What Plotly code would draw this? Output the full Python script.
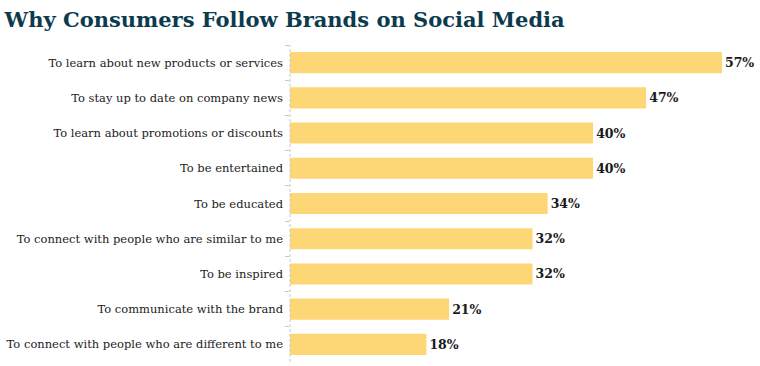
import plotly.graph_objects as go

categories = [
    "To learn about new products or services",
    "To stay up to date on company news",
    "To learn about promotions or discounts",
    "To be entertained",
    "To be educated",
    "To connect with people who are similar to me",
    "To be inspired",
    "To communicate with the brand",
    "To connect with people who are different to me",
]
values = [57, 47, 40, 40, 34, 32, 32, 21, 18]
labels = [f"{v}%" for v in values]

fig = go.Figure(go.Bar(
    x=values, y=categories, orientation="h",
    marker=dict(color="#FDD775", line=dict(width=0)),
    text=labels, textposition="outside",
    textfont=dict(family="DejaVu Serif", size=12.5, color="#1a1a1a", weight="bold"),
    cliponaxis=False, width=0.6, hoverinfo="skip",
))

fig.update_layout(
    width=760, height=366,
    margin=dict(l=290, r=10, t=45, b=4, autoexpand=False),
    paper_bgcolor="white", plot_bgcolor="white",
    title=dict(text="<b>Why Consumers Follow Brands on Social Media</b>",
               x=0.006, xanchor="left", y=0.945, yanchor="middle",
               font=dict(family="DejaVu Serif", size=21, color="#0D3B4E")),
    showlegend=False,
    bargap=0.4,
)
fig.update_xaxes(range=[0, 60.7], visible=False)
fig.update_yaxes(
    range=[8.5, -0.5], tickson="boundaries", ticks="outside",
    ticklen=4, tickcolor="#c8c8c8", ticklabelstandoff=6,
    showline=False, showgrid=False, automargin=False,
    tickfont=dict(family="DejaVu Serif", size=11.5, color="#222222"),
)
fig.add_shape(type="line", xref="paper", yref="paper", x0=0, x1=0, y0=0, y1=1,
              line=dict(color="#c8c8c8", width=1, dash="3px,2px"))

fig.write_html("out.html", config={"displayModeBar": False},
               post_script="document.body.style.margin='0';document.body.style.overflow='hidden';")
